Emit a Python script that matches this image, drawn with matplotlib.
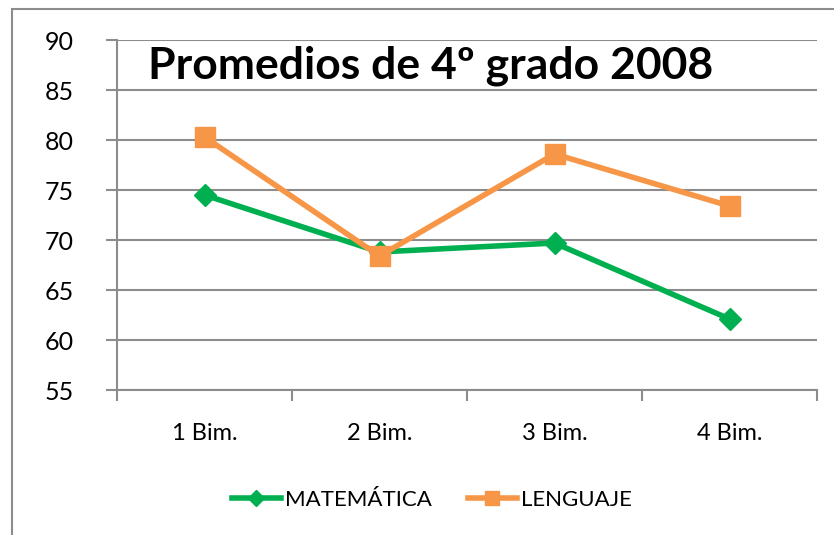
import matplotlib.pyplot as plt
from matplotlib.patches import Rectangle

plt.rcParams['font.family'] = ['Lato', 'DejaVu Sans']

bimestres = ['1 Bim.', '2 Bim.', '3 Bim.', '4 Bim.']
matematica = [74.5, 68.8, 69.7, 62.1]
lenguaje = [80.3, 68.4, 78.6, 73.4]
yticks = [55, 60, 65, 70, 75, 80, 85, 90]

fig = plt.figure(figsize=(8.34, 5.35), dpi=100)
W, H = 834, 535
# chart border (clipped at right/bottom like the reference)
fig.patches.append(Rectangle((12 / W, -0.1), 1.1, 1.1 - 9 / H,
                             transform=fig.transFigure, fill=False,
                             edgecolor='#8c8c8c', linewidth=1.5))
ax = fig.add_axes([117 / W, 1 - 390 / H, 700 / W, 350 / H])

x = range(len(bimestres))
ax.plot(x, matematica, color='#00B050', lw=4, marker='D', markersize=11,
        label='MATEMÁTICA', zorder=3)
ax.plot(x, lenguaje, color='#F79646', lw=4, marker='s', markersize=14,
        label='LENGUAJE', zorder=4)

ax.set_xlim(-0.5, 3.5)
ax.set_ylim(55, 90)
ax.set_yticks(yticks)
ax.set_yticklabels([str(v) for v in yticks], fontsize=18)
ax.yaxis.grid(True, color='#8c8c8c', lw=1.5)
ax.set_axisbelow(True)
ax.set_xticks([i - 0.5 for i in range(len(bimestres) + 1)])
ax.set_xticklabels([])
ax.set_xticks(list(x), minor=True)
ax.set_xticklabels(bimestres, minor=True, fontsize=17)
ax.tick_params(axis='x', which='minor', length=0, pad=24)
ax.tick_params(axis='x', which='major', length=8, width=1.5, color='#8c8c8c')
ax.tick_params(axis='y', length=8, width=1.5, color='#8c8c8c', pad=44)
for lbl in ax.get_yticklabels():
    lbl.set_horizontalalignment('left')
for s in ['top', 'right']:
    ax.spines[s].set_visible(False)
for s in ['left', 'bottom']:
    ax.spines[s].set_color('#8c8c8c')
    ax.spines[s].set_linewidth(1.5)

ax.text(0.045, 0.985, 'Promedios de 4º grado 2008', transform=ax.transAxes,
        fontsize=32, fontweight='bold', va='top', ha='left')

leg = fig.legend(loc='center', bbox_to_anchor=(432 / W, 1 - 500 / H), ncol=2,
                 frameon=False, fontsize=16, handlelength=2.2,
                 columnspacing=1.6, handletextpad=0.2, markerscale=0.75)

fig.savefig('out.png', dpi=100)
